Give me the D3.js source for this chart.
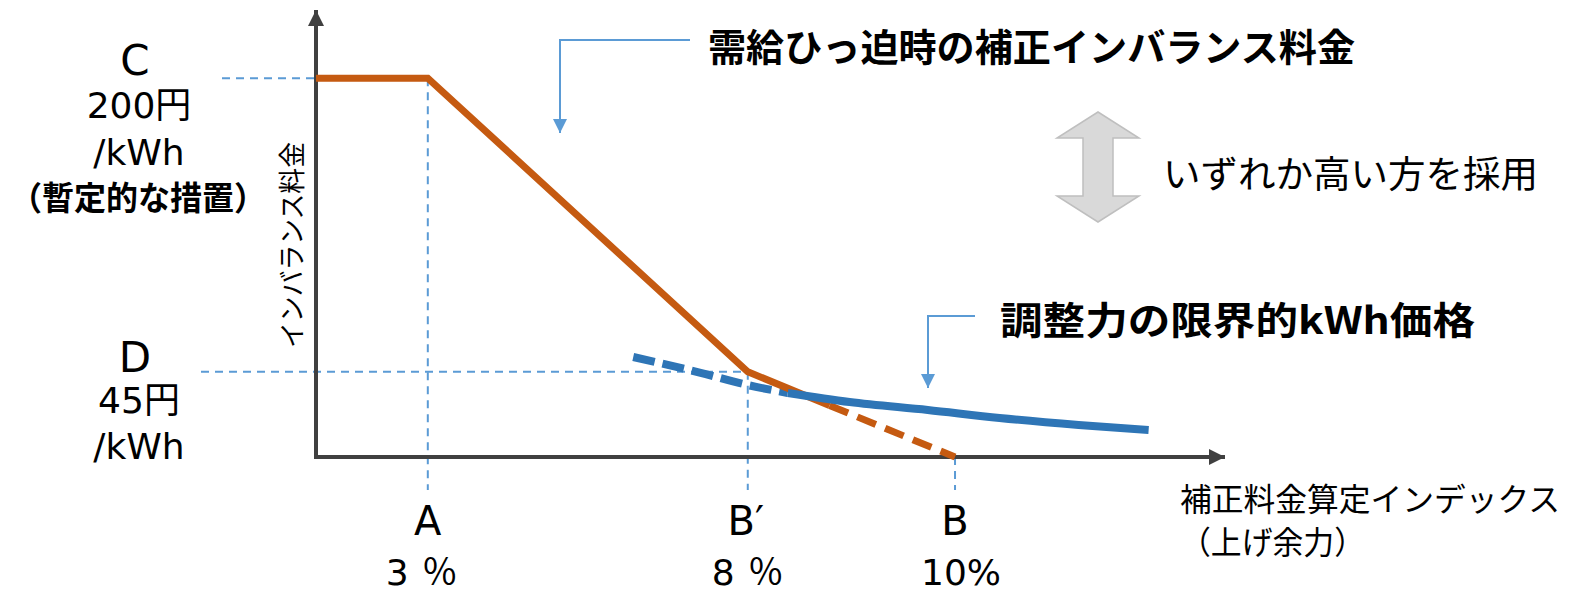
<!DOCTYPE html>
<html lang="ja">
<head>
<meta charset="UTF-8">
<title>補正インバランス料金</title>
<script src="https://d3js.org/d3.v7.min.js"></script>
<style>
  html, body { margin: 0; padding: 0; background: #fff; }
  svg { display: block; }
  text { font-family: "Noto Sans CJK JP", "Noto Sans", sans-serif; fill: #000; }
  .lat { font-family: "DejaVu Sans", "Noto Sans CJK JP", sans-serif; }
</style>
</head>
<body>
<script>
// conceptual x units (0-100 along the index axis), y in 円/kWh
const xMarks = ["A", "B′", "B"]
const xMarkVals = [12.3, 47.5, 70.3]
const xMarkPct = ["3％", "8％", "10%"]

const priceC = 200
const priceD = 45

// 需給ひっ迫時の補正インバランス料金
const orangeSolid = [[0, 200], [12.3, 200], [47.5, 45], [56.5, 27.2]]
const orangeDash = [[56.5, 27.2], [70.3, 0]]

// 調整力の限界的kWh価格
const blueDash = [[34.9, 52.8], [42.2, 44.6], [47.5, 38.0], [51.9, 33.8]]
const blueSolid = [[51.9, 33.8], [58.7, 29.0], [67.3, 24.8], [75.2, 20.6], [83.9, 16.9], [91.6, 14.2]]

const width = 1573
const height = 596

const svg = d3.select("body").append("svg")
    .attr("width", width)
    .attr("height", height)

const x = d3.scaleLinear().domain([0, 100]).range([316, 1225])
const y = d3.scaleLinear().domain([0, 236]).range([457, 10])

const defs = svg.append("defs")
defs.append("marker")
    .attr("id", "axArrow")
    .attr("viewBox", "0 0 16 16")
    .attr("refX", 16).attr("refY", 8)
    .attr("markerWidth", 16).attr("markerHeight", 16)
    .attr("markerUnits", "userSpaceOnUse")
    .attr("orient", "auto")
  .append("path").attr("d", "M0,0L16,8L0,16Z").attr("fill", "#404040")
defs.append("marker")
    .attr("id", "blArrow")
    .attr("viewBox", "0 0 16 16")
    .attr("refX", 16).attr("refY", 8)
    .attr("markerWidth", 16).attr("markerHeight", 14)
    .attr("markerUnits", "userSpaceOnUse")
    .attr("orient", "auto")
  .append("path").attr("d", "M0,0L16,8L0,16Z").attr("fill", "#5b9bd5")

const guideCol = "#5b9bd5"
const orange = "#c55a11"
const blue = "#2e75b6"

// guide lines
const g = svg.append("g")
function guide(x1, y1, x2, y2) {
    g.append("line")
        .attr("x1", x1).attr("y1", y1).attr("x2", x2).attr("y2", y2)
        .attr("stroke", guideCol).attr("stroke-width", 2)
        .attr("stroke-dasharray", "8,6")
}
guide(222, y(priceC), x(xMarkVals[0]), y(priceC))
guide(201, y(priceD), x(xMarkVals[1]), y(priceD))
guide(x(xMarkVals[0]), y(priceC), x(xMarkVals[0]), 490)
guide(x(xMarkVals[1]), y(priceD), x(xMarkVals[1]), 490)
guide(x(xMarkVals[2]), y(0), x(xMarkVals[2]), 490)

// axes
svg.append("line")
    .attr("x1", x(0)).attr("y1", y(0)).attr("x2", x(100)).attr("y2", y(0))
    .attr("stroke", "#404040").attr("stroke-width", 4)
    .attr("marker-end", "url(#axArrow)")
svg.append("line")
    .attr("x1", x(0)).attr("y1", y(0) + 2).attr("x2", x(0)).attr("y2", y(236))
    .attr("stroke", "#404040").attr("stroke-width", 4)
    .attr("marker-end", "url(#axArrow)")

// curves
const lineStraight = d3.line().x(d => x(d[0])).y(d => y(d[1]))
const lineCurve = d3.line().x(d => x(d[0])).y(d => y(d[1])).curve(d3.curveMonotoneX)

svg.append("path").datum(orangeDash).attr("d", lineStraight)
    .attr("fill", "none").attr("stroke", orange).attr("stroke-width", 7)
    .attr("stroke-dasharray", "20,10")
svg.append("path").datum(blueDash).attr("d", lineCurve)
    .attr("fill", "none").attr("stroke", blue).attr("stroke-width", 8)
    .attr("stroke-dasharray", "22,8")
svg.append("path").datum(orangeSolid).attr("d", lineStraight)
    .attr("fill", "none").attr("stroke", orange).attr("stroke-width", 7)
    .attr("stroke-linejoin", "miter")
svg.append("path").datum(blueSolid).attr("d", lineCurve)
    .attr("fill", "none").attr("stroke", blue).attr("stroke-width", 8)

// callouts
svg.append("path").attr("d", "M690,40H560V133")
    .attr("fill", "none").attr("stroke", guideCol).attr("stroke-width", 2)
    .attr("marker-end", "url(#blArrow)")
svg.append("path").attr("d", "M975,316H928V388")
    .attr("fill", "none").attr("stroke", guideCol).attr("stroke-width", 2)
    .attr("marker-end", "url(#blArrow)")

// double arrow
svg.append("path")
    .attr("d", "M1098,112L1139,138H1113V196H1139L1098,222L1057,196H1083V138H1057Z")
    .attr("fill", "#d9d9d9").attr("stroke", "#bfbfbf").attr("stroke-width", 1.5)

// texts
function txt(s, tx, ty, size, opts = {}) {
    const t = svg.append("text")
        .attr("x", tx).attr("y", ty)
        .attr("font-size", size)
        .attr("text-anchor", opts.anchor || "middle")
        .attr("dominant-baseline", "central")
        .attr("font-weight", opts.bold ? "bold" : "normal")
        .text(s)
    if (opts.cls) t.attr("class", opts.cls)
    if (opts.len) t.attr("textLength", opts.len).attr("lengthAdjust", opts.adj || "spacingAndGlyphs")
    return t
}

txt("C", 135, 60, 42, {cls: "lat"})
txt("200円", 139, 105, 36, {cls: "lat"})
txt("/kWh", 139, 152, 36, {cls: "lat"})
txt("（暫定的な措置）", 138, 196, 33, {bold: true, len: 256})
txt("D", 135, 357, 42, {cls: "lat"})
txt("45円", 139, 400, 36, {cls: "lat"})
txt("/kWh", 139, 446, 36, {cls: "lat"})

svg.append("text")
    .attr("transform", "translate(290,245) rotate(-90)")
    .attr("font-size", 27)
    .attr("text-anchor", "middle")
    .attr("dominant-baseline", "central")
    .attr("textLength", 206).attr("lengthAdjust", "spacingAndGlyphs")
    .text("インバランス料金")

txt("需給ひっ迫時の補正インバランス料金", 708, 44, 38, {anchor: "start", bold: true, len: 647})
txt("いずれか高い方を採用", 1163, 172, 37, {anchor: "start", len: 375})
txt("調整力の限界的kWh価格", 1000, 317, 38, {anchor: "start", bold: true, len: 475})
txt("補正料金算定インデックス", 1180, 497, 32, {anchor: "start", len: 380})
txt("（上げ余力）", 1180, 540, 32, {anchor: "start", len: 185})

const pctShift = [-6, 0, 6]
xMarks.forEach((m, i) => {
    txt(m, x(xMarkVals[i]) - (i === 1 ? 2 : 0), 521, 40, {cls: "lat"})
    txt(xMarkPct[i], x(xMarkVals[i]) + pctShift[i], 572, 36,
        {cls: "lat", len: i === 2 ? null : 72, adj: "spacing"})
})
</script>
</body>
</html>
